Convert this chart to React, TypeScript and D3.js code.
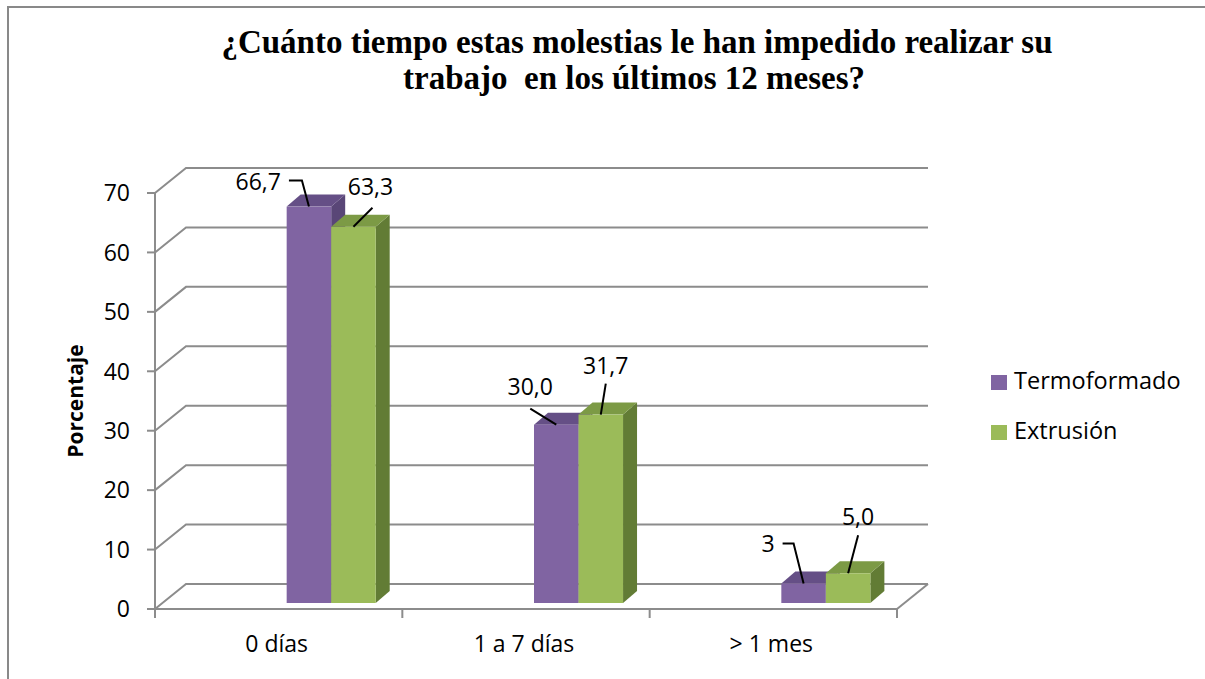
import { useEffect, useRef } from 'react'
import * as d3 from 'd3'

const categories = ['0 días', '1 a 7 días', '> 1 mes']
const seriesNames = ['Termoformado', 'Extrusión']
const termoformado = [66.7, 30.0, 3.3]
const extrusion = [63.3, 31.7, 5.0]
const termoLabels = ['66,7', '30,0', '3']
const extruLabels = ['63,3', '31,7', '5,0']
const yTicks = [0, 10, 20, 30, 40, 50, 60, 70]

const W = 1205
const H = 679

// 3D look: wall depth, bar offset into the floor, bar depth
const WALL = { dx: 31, dy: -25 }
const BAR_OFF = { dx: 7, dy: -6 }
const BAR_D = { dx: 14, dy: -12 }

const colors = [
  { front: '#8064A2', top: '#654F86', side: '#594677' },
  { front: '#9BBB59', top: '#7C9A45', side: '#627C35' },
]

// leader line / label placement relative to the bar's front-top centre
type Lbl = { line: [number, number][]; tx: number; ty: number; anchor: string }
const labelLayout: Lbl[][] = [
  [
    { line: [[0, 0], [-7, -26], [-20, -26]], tx: -28, ty: -17, anchor: 'end' },
    { line: [[0, 0], [-26, -16]], tx: -26, ty: -30, anchor: 'middle' },
    { line: [[0, 0], [-10, -40], [-21, -40]], tx: -29, ty: -31, anchor: 'end' },
  ],
  [
    { line: [[0, 0], [19, -19]], tx: 17, ty: -32, anchor: 'middle' },
    { line: [[0, 0], [5, -31]], tx: 5, ty: -41, anchor: 'middle' },
    { line: [[0, 0], [10, -38]], tx: 10, ty: -48, anchor: 'middle' },
  ],
]

export default function App() {
  const svgRef = useRef<SVGSVGElement>(null)

  useEffect(() => {
    const svg = d3.select(svgRef.current)
    svg.selectAll('*').remove()

    const font = '"Open Sans", sans-serif'

    // outer frame
    svg.append('rect')
      .attr('x', 8).attr('y', 7)
      .attr('width', W + 20).attr('height', H + 20)
      .attr('fill', '#fff')
      .attr('stroke', '#898989')
      .attr('stroke-width', 2)

    // title
    const title = svg.append('text')
      .attr('text-anchor', 'middle')
      .attr('font-family', '"Liberation Serif", "Times New Roman", serif')
      .attr('font-weight', 'bold')
      .attr('font-size', 33)
      .attr('fill', '#000')
      .style('white-space', 'pre')
    title.append('tspan').attr('x', 637).attr('y', 53)
      .text('¿Cuánto tiempo estas molestias le han impedido realizar su')
    title.append('tspan').attr('x', 634).attr('y', 89)
      .text('trabajo  en los últimos 12 meses?')

    const x0 = 155, x1 = 897
    const x = d3.scaleBand<string>().domain(categories).range([x0, x1]).padding(0)
    const y = d3.scaleLinear().domain([0, 70]).range([609, 193])
    const bw = x.bandwidth()
    const barW = bw * 0.18

    const grid = '#8C8C8C'

    // side wall diagonals + back wall gridlines
    yTicks.forEach(t => {
      const yy = y(t)
      svg.append('path')
        .attr('d', `M${x0},${yy} L${x0 + WALL.dx},${yy + WALL.dy} L${x1 + WALL.dx},${yy + WALL.dy}`)
        .attr('fill', 'none')
        .attr('stroke', grid)
        .attr('stroke-width', 2)
    })
    // floor right edge
    svg.append('line')
      .attr('x1', x1).attr('y1', y(0))
      .attr('x2', x1 + WALL.dx).attr('y2', y(0) + WALL.dy)
      .attr('stroke', grid).attr('stroke-width', 2)

    // axes
    svg.append('line')
      .attr('x1', x0).attr('x2', x0)
      .attr('y1', y(70)).attr('y2', y(0))
      .attr('stroke', grid).attr('stroke-width', 2)
    svg.append('line')
      .attr('x1', x0).attr('x2', x1)
      .attr('y1', y(0)).attr('y2', y(0))
      .attr('stroke', grid).attr('stroke-width', 2)

    yTicks.forEach(t => {
      svg.append('line')
        .attr('x1', x0 - 8).attr('x2', x0)
        .attr('y1', y(t)).attr('y2', y(t))
        .attr('stroke', grid).attr('stroke-width', 2)
      svg.append('text')
        .attr('x', 130)
        .attr('y', y(t))
        .attr('dy', '0.36em')
        .attr('text-anchor', 'end')
        .attr('font-family', font)
        .attr('font-size', 23)
        .attr('fill', '#000')
        .text(t)
    })

    const bounds = [...categories.map(c => x(c) as number), x1]
    bounds.forEach(bx => {
      svg.append('line')
        .attr('x1', bx).attr('x2', bx)
        .attr('y1', y(0)).attr('y2', y(0) + 9)
        .attr('stroke', grid).attr('stroke-width', 2)
    })

    categories.forEach(c => {
      svg.append('text')
        .attr('x', (x(c) as number) + bw / 2 - 2)
        .attr('y', 652)
        .attr('text-anchor', 'middle')
        .attr('font-family', font)
        .attr('font-size', 23)
        .attr('fill', '#000')
        .text(c)
    })

    // y axis title
    svg.append('text')
      .attr('transform', 'translate(83,401) rotate(-90)')
      .attr('text-anchor', 'middle')
      .attr('font-family', font)
      .attr('font-weight', 'bold')
      .attr('font-size', 21)
      .attr('fill', '#000')
      .text('Porcentaje')

    // bars
    const series = [termoformado, extrusion]
    const labels = [termoLabels, extruLabels]
    const base = y(0) + BAR_OFF.dy
    const tops: { cx: number; ty: number }[][] = [[], []]

    categories.forEach((c, ci) => {
      series.forEach((vals, si) => {
        const v = vals[ci]
        const bx = (x(c) as number) + bw / 2 + 1 + BAR_OFF.dx + si * barW
        const by = y(v) + BAR_OFF.dy
        const col = colors[si]
        const g = svg.append('g')
        g.append('path')
          .attr('d', `M${bx + barW},${by} L${bx + barW + BAR_D.dx},${by + BAR_D.dy} L${bx + barW + BAR_D.dx},${base + BAR_D.dy} L${bx + barW},${base} Z`)
          .attr('fill', col.side)
        g.append('path')
          .attr('d', `M${bx},${by} L${bx + BAR_D.dx},${by + BAR_D.dy} L${bx + barW + BAR_D.dx},${by + BAR_D.dy} L${bx + barW},${by} Z`)
          .attr('fill', col.top)
        g.append('rect')
          .attr('x', bx).attr('y', by)
          .attr('width', barW).attr('height', base - by)
          .attr('fill', col.front)
        tops[si][ci] = { cx: bx + barW / 2, ty: by }
      })
    })

    // data labels with leader lines
    series.forEach((_, si) => {
      categories.forEach((_c, ci) => {
        const a = tops[si][ci]
        const lay = labelLayout[si][ci]
        svg.append('path')
          .attr('d', d3.line()(lay.line.map(([dx, dy]) => [a.cx + dx, a.ty + dy])))
          .attr('fill', 'none')
          .attr('stroke', '#000')
          .attr('stroke-width', 2)
        svg.append('text')
          .attr('x', a.cx + lay.tx)
          .attr('y', a.ty + lay.ty)
          .attr('text-anchor', lay.anchor)
          .attr('font-family', font)
          .attr('font-size', 23)
          .attr('fill', '#000')
          .text(labels[si][ci])
      })
    })

    // legend
    seriesNames.forEach((name, i) => {
      const ly = 375 + i * 50
      svg.append('rect')
        .attr('x', 991).attr('y', ly)
        .attr('width', 16).attr('height', 15)
        .attr('fill', colors[i].front)
      svg.append('text')
        .attr('x', 1014).attr('y', ly + 14)
        .attr('font-family', font)
        .attr('font-size', 23.5)
        .attr('fill', '#000')
        .text(name)
    })
  }, [])

  return (
    <div style={{ position: 'absolute', left: 0, top: 0, width: W, height: H, overflow: 'hidden', background: '#fff' }}>
      <svg ref={svgRef} width={W} height={H} style={{ display: 'block' }} />
    </div>
  )
}
